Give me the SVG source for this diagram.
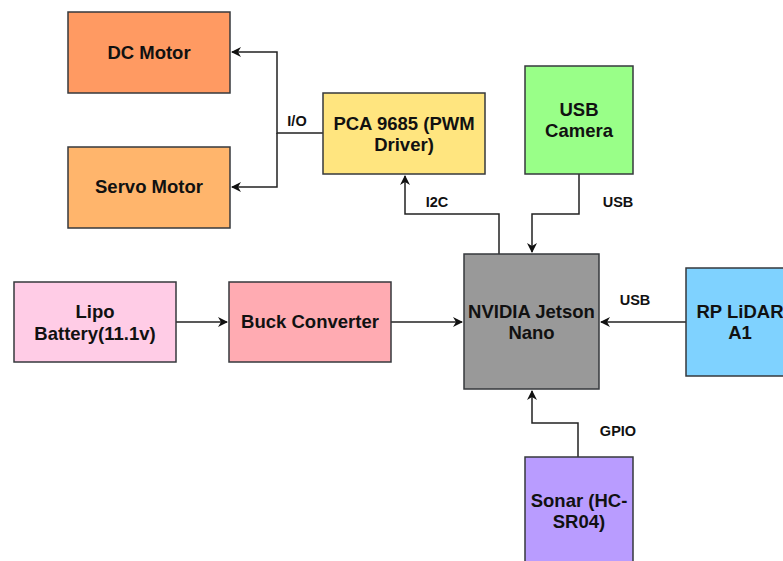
<svg xmlns="http://www.w3.org/2000/svg" width="783" height="561" viewBox="0 0 783 561">
<style>
.box{stroke:#36393d;stroke-width:1.5}
.lbl{font-family:"Liberation Sans",Arial,sans-serif;font-weight:bold;font-size:18.5px;fill:#111;text-anchor:middle}
.el{font-family:"Liberation Sans",Arial,sans-serif;font-weight:bold;font-size:14.5px;fill:#111;text-anchor:middle}
.c{fill:none;stroke:#222;stroke-width:1.5}
</style>
<defs>
<marker id="ah" viewBox="0 0 10 10" refX="9" refY="5" markerWidth="10" markerHeight="10" markerUnits="userSpaceOnUse" orient="auto">
<path d="M0,0 L10,5 L0,10 L3,5 z" fill="#111"/>
</marker>
</defs>
<rect width="783" height="561" fill="#fff"/>
<g id="connectors">
<path class="c" d="M323,133 H277 V52 H232" marker-end="url(#ah)"/>
<path class="c" d="M277,133 V187 H232" marker-end="url(#ah)"/>
<path class="c" d="M499,254 V214 H405 V176" marker-end="url(#ah)"/>
<path class="c" d="M579,174 V214 H532 V252" marker-end="url(#ah)"/>
<path class="c" d="M686,322 H601" marker-end="url(#ah)"/>
<path class="c" d="M578,457 V423 H532 V391" marker-end="url(#ah)"/>
<path class="c" d="M176,322 H227" marker-end="url(#ah)"/>
<path class="c" d="M391,322 H462" marker-end="url(#ah)"/>
<text class="el" x="297" y="126">I/O</text>
<text class="el" x="437" y="207">I2C</text>
<text class="el" x="618" y="207">USB</text>
<text class="el" x="635" y="305">USB</text>
<text class="el" x="618" y="436">GPIO</text>
</g>
<g id="dc-motor"><rect class="box" x="68" y="12" width="162" height="81" fill="#FF9A62"/><text class="lbl" x="149" y="59">DC Motor</text></g>
<g id="servo-motor"><rect class="box" x="68" y="147" width="162" height="81" fill="#FFB56C"/><text class="lbl" x="149" y="193">Servo Motor</text></g>
<g id="pca9685"><rect class="box" x="323" y="93" width="162" height="81" fill="#FFE57F"/><text class="lbl" x="404" y="130">PCA 9685 (PWM</text><text class="lbl" x="404" y="151">Driver)</text></g>
<g id="usb-camera"><rect class="box" x="525" y="66" width="108" height="108" fill="#99FF88"/><text class="lbl" x="579" y="116">USB</text><text class="lbl" x="579" y="137">Camera</text></g>
<g id="jetson"><rect class="box" x="464" y="254" width="135" height="135" fill="#999999"/><text class="lbl" x="531.5" y="318">NVIDIA Jetson</text><text class="lbl" x="531.5" y="339">Nano</text></g>
<g id="lidar"><rect class="box" x="686" y="268" width="108" height="108" fill="#7FD2FF"/><text class="lbl" x="740" y="318">RP LiDAR</text><text class="lbl" x="740" y="339">A1</text></g>
<g id="lipo"><rect class="box" x="14" y="282" width="162" height="80" fill="#FFCCE6"/><text class="lbl" x="95" y="318">Lipo</text><text class="lbl" x="95" y="340">Battery(11.1v)</text></g>
<g id="buck"><rect class="box" x="229" y="282" width="162" height="80" fill="#FFABB2"/><text class="lbl" x="310" y="328">Buck Converter</text></g>
<g id="sonar"><rect class="box" x="525" y="457" width="108" height="110" fill="#B99CFF"/><text class="lbl" x="579" y="507">Sonar (HC-</text><text class="lbl" x="579" y="528">SR04)</text></g>
</svg>
